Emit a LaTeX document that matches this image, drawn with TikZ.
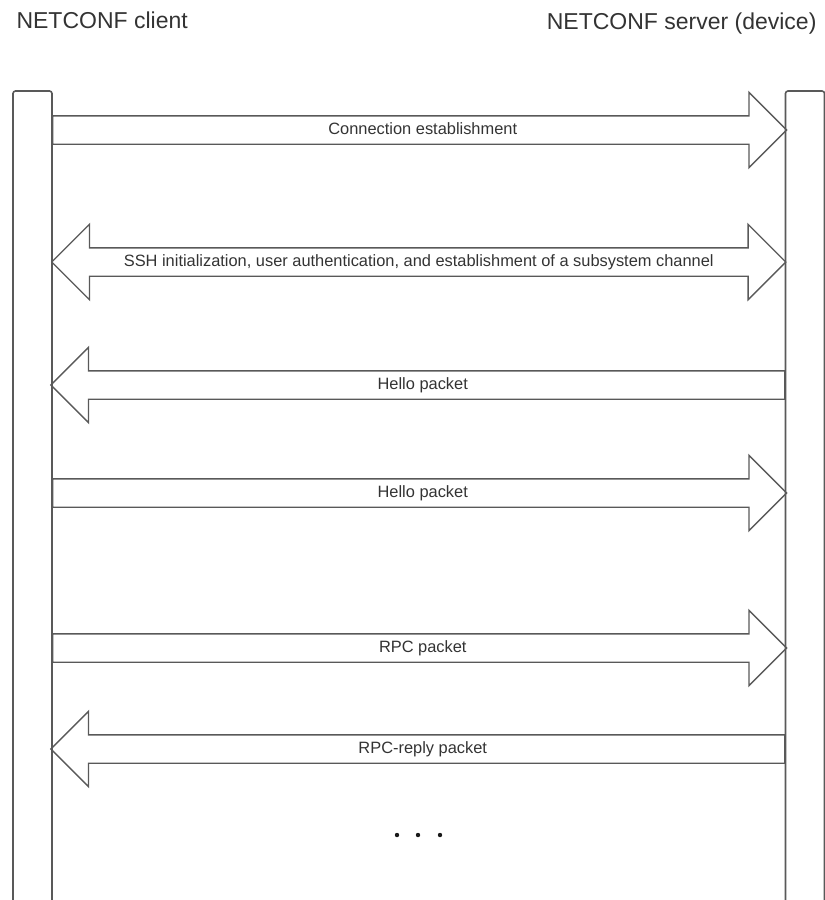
\documentclass[tikz,border=0pt]{standalone}
\usepackage{fontspec}
\setmainfont{Liberation Sans}
\usepackage{tikz}
\usetikzlibrary{shapes.arrows,positioning,calc}

\begin{document}
\begin{tikzpicture}[x=1pt, y=-1pt,
    every node/.style={font=\fontsize{16.4}{19}\selectfont, text=black!80},
    lifeline/.style={draw=black!65, line width=1.6pt, rounded corners=2.5pt, minimum width=39pt, minimum height=840pt, anchor=north, inner sep=0pt, outer sep=0pt},
    msg/.style={draw=black!65, line width=1.4pt, minimum height=734pt, inner xsep=0pt, inner ysep=6pt, text height=12pt, text depth=3pt},
    tomsg/.style={msg, single arrow, single arrow head extend=23.5pt, anchor=tail},
    frommsg/.style={tomsg, shape border rotate=180},
    bothmsg/.style={msg, double arrow, double arrow head extend=23.5pt},
    msgtext/.style={inner sep=0pt, text height=12pt, text depth=3pt},
    title/.style={font=\fontsize{23}{27}\selectfont}]
    \useasboundingbox (0,0) rectangle (825,900);

    % lifelines
    \node[lifeline] (client) at (32.5,91) {};
    \node[lifeline] (server) at (805,91) {};
    \coordinate (mid) at ($(client.east)!0.5!(server.west)$);
    \coordinate (textx) at ($(mid)+(4,0)$);
    \node[title, anchor=base west] (clientname) at (13,28) {NETCONF client};
    \node[title, anchor=base east] (servername) at (820,29) {NETCONF server (device)};

    % messages
    \node[tomsg] (connect) at (client.east |- 0,130) {};
    \node[msgtext] at (textx |- connect.tip) {Connection establishment};
    \node[bothmsg] (ssh) at (mid |- 0,262) {SSH initialization, user authentication, and establishment of a subsystem channel};
    \node[frommsg] (hellodev) at (server.west |- 0,385) {};
    \node[msgtext] at (textx |- hellodev.tip) {Hello packet};
    \node[tomsg] (hellocli) at (client.east |- 0,493) {};
    \node[msgtext] at (textx |- hellocli.tip) {Hello packet};
    \node[tomsg] (rpc) at (client.east |- 0,648) {};
    \node[msgtext] at (textx |- rpc.tip) {RPC packet};
    \node[frommsg] (reply) at (server.west |- 0,749) {};
    \node[msgtext] at (textx |- reply.tip) {RPC-reply packet};

    \foreach \x in {397,418,440}
        \fill[black!90] (\x,835) circle (2.2pt);
\end{tikzpicture}
\end{document}
